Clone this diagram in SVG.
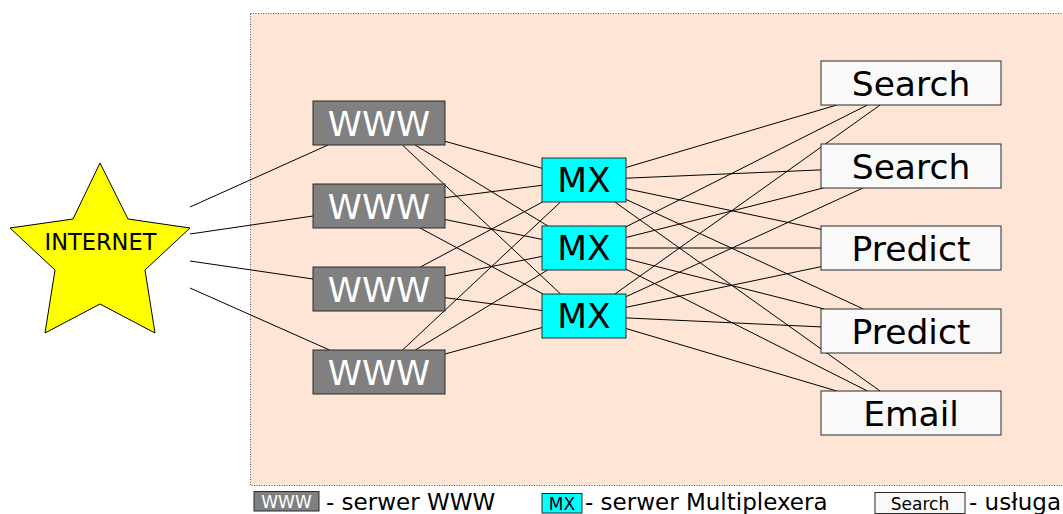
<svg xmlns="http://www.w3.org/2000/svg" width="1063" height="514" viewBox="0 0 1063 514">
  <style>
    .area { fill: #fee5d5; stroke: #555; stroke-width: 1; stroke-dasharray: 1 1.5; }
    .www { fill: #808080; stroke: #2a2a2a; stroke-width: 1; }
    .mx { fill: #00ffff; stroke: #2a2a2a; stroke-width: 1; }
    .svc { fill: #f9f9f9; stroke: #2a2a2a; stroke-width: 1; }
    .star { fill: #ffff00; stroke: #000; stroke-width: 1; stroke-linejoin: miter; }
    text { font-family: "DejaVu Sans", "Liberation Sans", sans-serif; }
    .big { font-size: 34.5px; text-anchor: middle; }
    .wtxt { fill: #ffffff; }
    .btxt { fill: #000000; }
    .leg { font-size: 23px; fill: #000; }
    .legs { font-size: 17px; text-anchor: middle; }
    #connectors line { stroke: #000; stroke-width: 1; }
  </style>

  <!-- shaded service area -->
  <rect class="area" x="250.5" y="13.5" width="820" height="472"/>

  <!-- connectors: internet to web servers, web servers to multiplexers, multiplexers to services -->
  <g id="connectors">
    <line x1="190" y1="207" x2="328" y2="145"/>
    <line x1="190" y1="234" x2="313" y2="216"/>
    <line x1="190" y1="261" x2="313" y2="279"/>
    <line x1="190" y1="288" x2="329.5" y2="350"/>

    <line x1="445" y1="141.3" x2="542" y2="168.3"/>
    <line x1="415.1" y1="145" x2="547.9" y2="226"/>
    <line x1="402.4" y1="145" x2="560.6" y2="294"/>

    <line x1="445" y1="197.6" x2="542" y2="185.3"/>
    <line x1="445" y1="219.5" x2="542" y2="239.4"/>
    <line x1="420" y1="228" x2="543" y2="294"/>

    <line x1="420.4" y1="267" x2="542.6" y2="202"/>
    <line x1="445" y1="275.8" x2="542" y2="256.4"/>
    <line x1="445" y1="297.7" x2="542" y2="310.5"/>

    <line x1="402.5" y1="350" x2="560.5" y2="202"/>
    <line x1="415.4" y1="350" x2="547.6" y2="270"/>
    <line x1="445" y1="354" x2="542" y2="327.5"/>

    <line x1="626" y1="167.5" x2="836.8" y2="105"/>
    <line x1="626" y1="178.2" x2="821" y2="169.9"/>
    <line x1="626" y1="188.7" x2="821" y2="229.3"/>
    <line x1="626" y1="199.4" x2="863.4" y2="309"/>
    <line x1="614.9" y1="202" x2="880.1" y2="391"/>

    <line x1="626" y1="226.8" x2="867.4" y2="105"/>
    <line x1="626" y1="237.5" x2="823.3" y2="188"/>
    <line x1="626" y1="248" x2="821" y2="248"/>
    <line x1="626" y1="258.7" x2="824.3" y2="309"/>
    <line x1="626" y1="269.2" x2="867.4" y2="391"/>

    <line x1="614.9" y1="294" x2="880.1" y2="105"/>
    <line x1="626" y1="296.7" x2="863" y2="188"/>
    <line x1="626" y1="307.3" x2="821" y2="266.7"/>
    <line x1="626" y1="317.9" x2="821" y2="326.9"/>
    <line x1="626" y1="328.5" x2="836.8" y2="391"/>
  </g>

  <!-- internet -->
  <g id="internet">
    <polygon class="star" points="100,163 128,219 190,228 145,270 155,333 100,304 45,333 55,270 10,228 73,219"/>
    <text x="100.5" y="250" font-size="22.5" text-anchor="middle" fill="#000">INTERNET</text>
  </g>

  <!-- web servers -->
  <g id="www1">
    <rect class="www" x="313" y="101" width="132" height="44"/>
    <text class="big wtxt" x="379" y="135.5">WWW</text>
  </g>
  <g id="www2">
    <rect class="www" x="313" y="184" width="132" height="44"/>
    <text class="big wtxt" x="379" y="218.5">WWW</text>
  </g>
  <g id="www3">
    <rect class="www" x="313" y="267" width="132" height="44"/>
    <text class="big wtxt" x="379" y="301.5">WWW</text>
  </g>
  <g id="www4">
    <rect class="www" x="313" y="350" width="132" height="44"/>
    <text class="big wtxt" x="379" y="384.5">WWW</text>
  </g>

  <!-- multiplexers -->
  <g id="mx1">
    <rect class="mx" x="542" y="158" width="84" height="44"/>
    <text class="big btxt" x="584" y="192.3">MX</text>
  </g>
  <g id="mx2">
    <rect class="mx" x="542" y="226" width="84" height="44"/>
    <text class="big btxt" x="584" y="260.3">MX</text>
  </g>
  <g id="mx3">
    <rect class="mx" x="542" y="294" width="84" height="44"/>
    <text class="big btxt" x="584" y="328.3">MX</text>
  </g>

  <!-- services -->
  <g id="search1">
    <rect class="svc" x="821" y="61" width="180" height="44"/>
    <text class="big btxt" x="911" y="95.5">Search</text>
  </g>
  <g id="search2">
    <rect class="svc" x="821" y="144" width="180" height="44"/>
    <text class="big btxt" x="911" y="178.5">Search</text>
  </g>
  <g id="predict1">
    <rect class="svc" x="821" y="226" width="180" height="44"/>
    <text class="big btxt" x="911" y="260.5">Predict</text>
  </g>
  <g id="predict2">
    <rect class="svc" x="821" y="309" width="180" height="44"/>
    <text class="big btxt" x="911" y="343.5">Predict</text>
  </g>
  <g id="email">
    <rect class="svc" x="821" y="391" width="180" height="44"/>
    <text class="big btxt" x="911" y="425.5">Email</text>
  </g>

  <!-- legend -->
  <g id="legend">
    <rect class="www" x="254" y="491.5" width="65" height="19.5"/>
    <text class="legs" x="286.5" y="507.5" font-size="18" fill="#fff">WWW</text>
    <text class="leg" x="326" y="510">- serwer WWW</text>

    <rect class="mx" x="542" y="493.5" width="40" height="19.5"/>
    <text class="legs" x="562" y="509.5" font-size="16" fill="#000">MX</text>
    <text class="leg" x="585" y="509.5">- serwer Multiplexera</text>

    <rect class="svc" x="875" y="492.5" width="90" height="21"/>
    <text class="legs" x="920" y="509.5" fill="#000">Search</text>
    <text class="leg" x="969" y="509.5">- usługa</text>
  </g>
</svg>
